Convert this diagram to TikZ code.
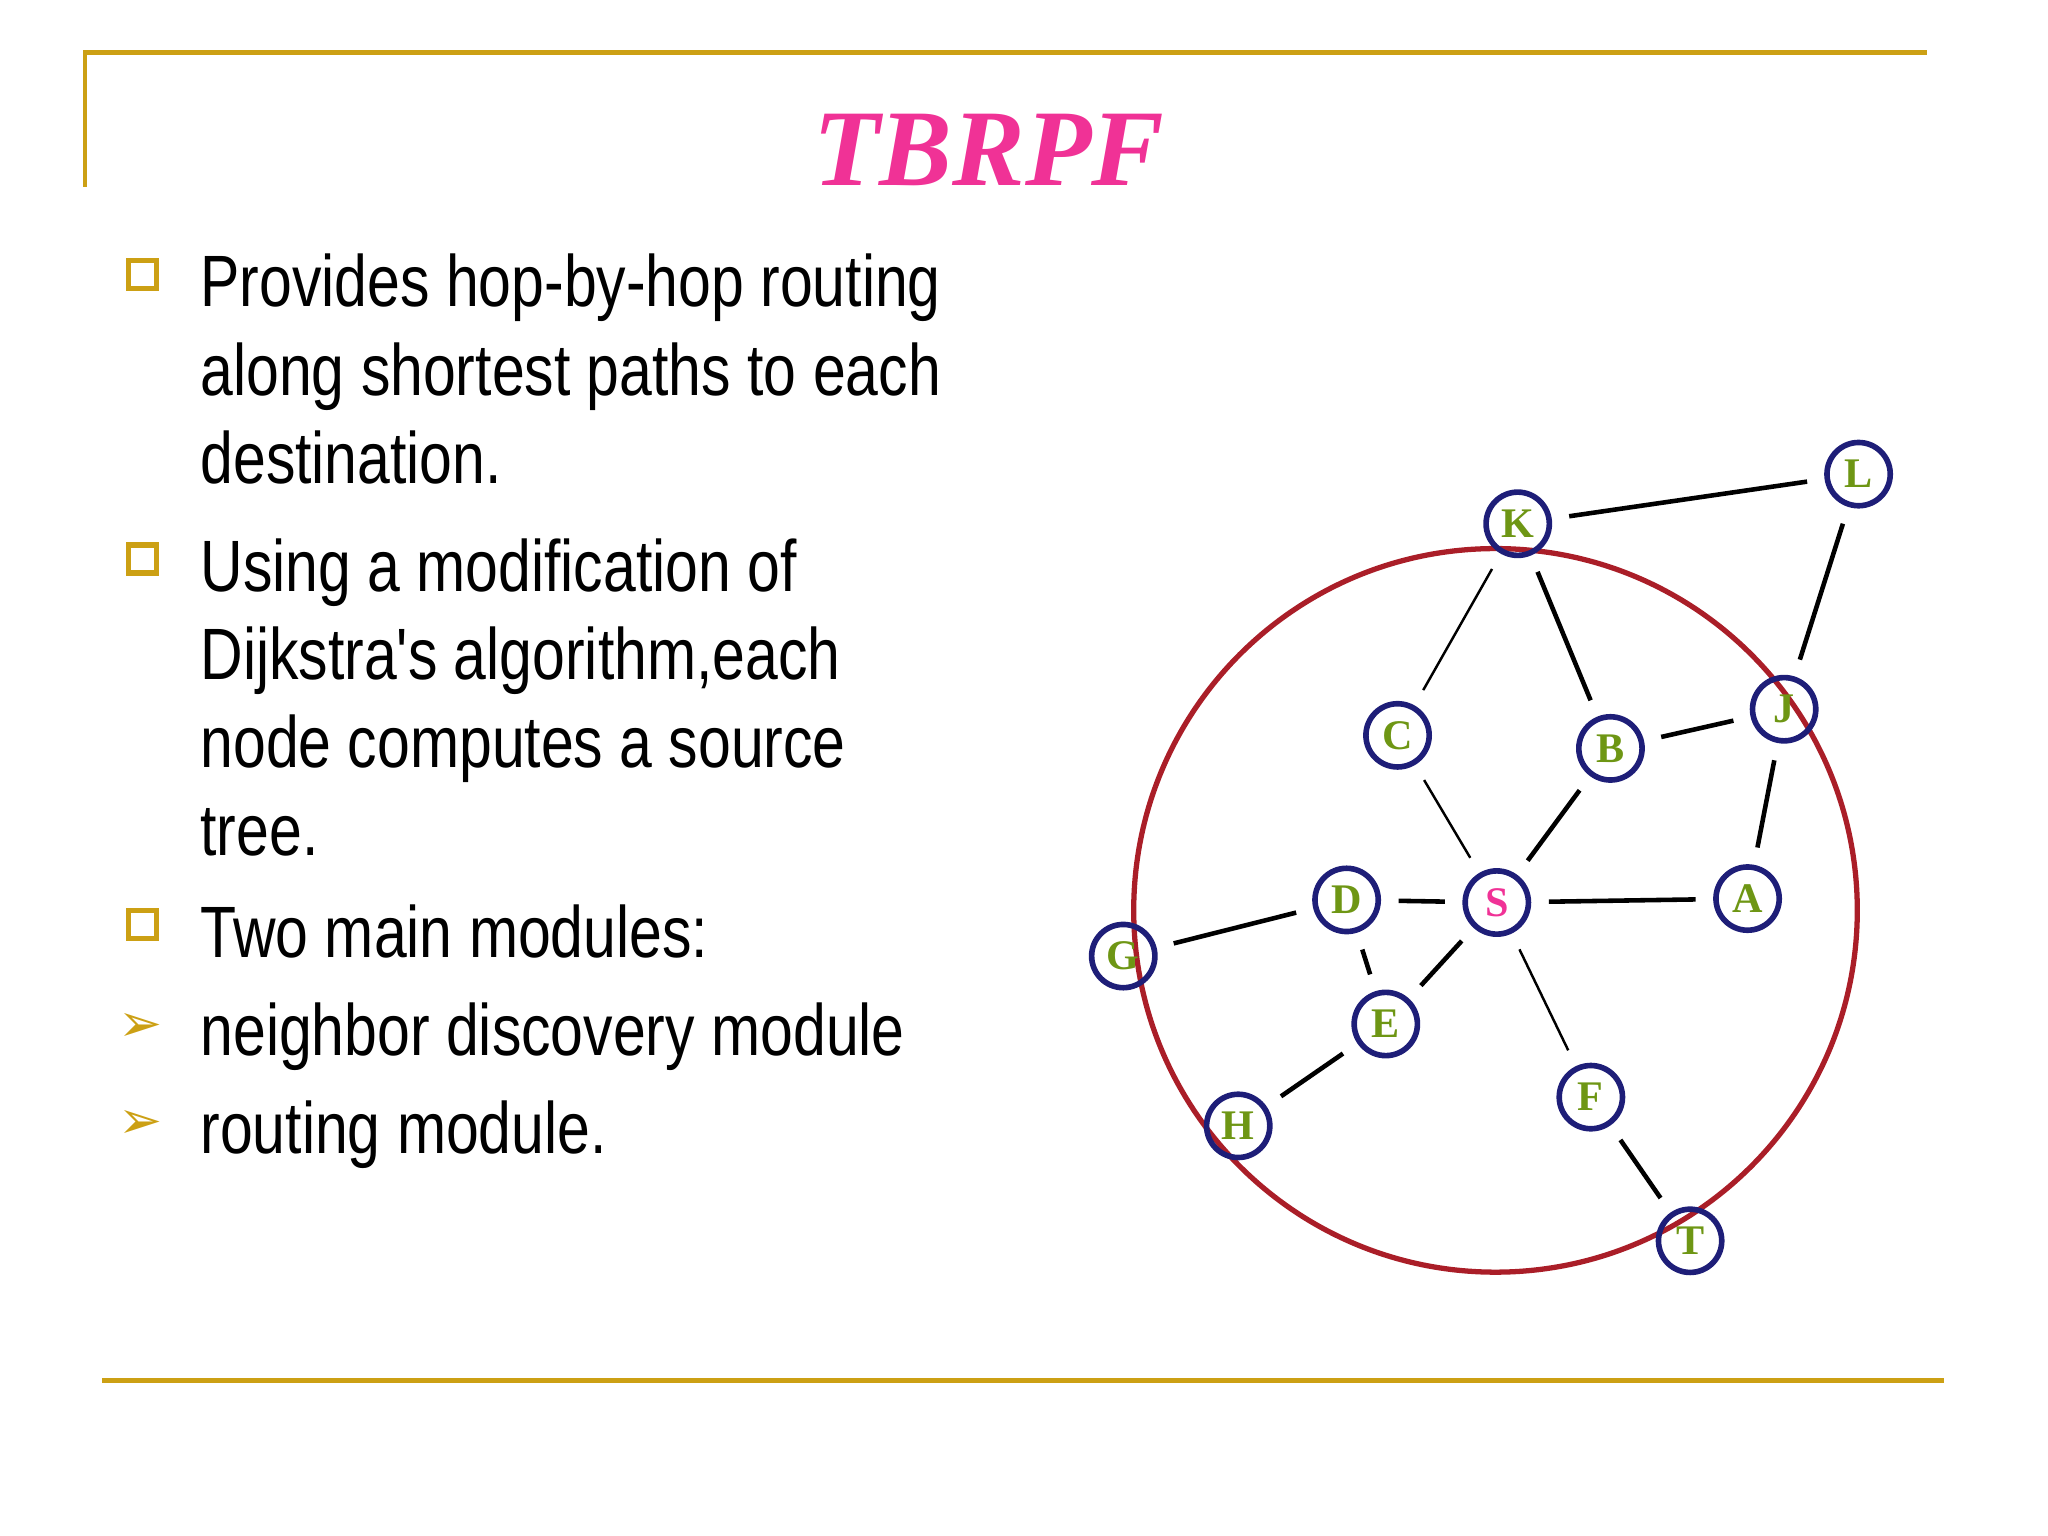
\documentclass[tikz,border=0pt]{standalone}
\usepackage{fontspec}
\setmainfont{Liberation Serif}
\newfontfamily\bodyfont[FakeStretch=0.81]{Liberation Sans}
\newfontfamily\symfont{DejaVu Sans}
\definecolor{gold}{RGB}{204,160,20}
\definecolor{pinkt}{RGB}{240,50,150}
\definecolor{navy}{RGB}{30,30,120}
\definecolor{olive}{RGB}{110,150,20}
\definecolor{dred}{RGB}{170,30,40}
\begin{document}
\begin{tikzpicture}[x=0.013061cm,y=-0.013061cm,
  gnode/.style={circle,draw=navy,line width=1.6pt,minimum size=18pt,inner sep=0pt,font=\bfseries\fontsize{12}{12}\selectfont,text=olive},
  edge/.style={line width=1.3pt,shorten >=5pt,shorten <=5pt},
  thin edge/.style={line width=0.7pt,shorten >=5pt,shorten <=5pt},
  txt/.style={anchor=base west,font=\bodyfont\fontsize{20.7}{25}\selectfont,inner sep=0pt}]
\useasboundingbox (0,0) rectangle (1568,1176);
\draw[gold,line width=1.3pt] (65,143) -- (65,40) -- (1475,40);
\draw[gold,line width=1.3pt] (78,1057) -- (1488,1057);
\node[font=\bfseries\itshape\fontsize{31}{31}\selectfont,text=pinkt] (title) at (757,115) {TBRPF};
% bullets
\foreach \y/\n in {210/b1,428/b2,708/b3}{
  \fill[gray!50] (105,\y-2) rectangle (118,\y+11);
  \node[draw=gold,line width=1.5pt,fill=white,minimum size=8pt,inner sep=0pt] (\n) at (109,\y) {};}
\node[text=gold,font=\symfont\fontsize{15}{15}\selectfont] (a1) at (108,787) {➢};
\node[text=gold,font=\symfont\fontsize{15}{15}\selectfont] (a2) at (108,861) {➢};
\node[txt] (l1) at (153,235) {Provides hop-by-hop routing};
\node[txt] (l2) at (153,303) {along shortest paths to each};
\node[txt] (l3) at (153,370) {destination.};
\node[txt] (l4) at (153,453) {Using a modification of};
\node[txt] (l5) at (153,520) {Dijkstra's algorithm,each};
\node[txt] (l6) at (153,588) {node computes a source};
\node[txt] (l7) at (153,655) {tree.};
\node[txt] (l8) at (153,733) {Two main modules:};
\node[txt] (l9) at (153,808) {neighbor discovery module};
\node[txt] (l10) at (153,883) {routing module.};
% graph
\draw[dred,line width=1.5pt] (1145,697) circle [radius=277];
\foreach \n/\x/\y in {K/1162/401,L/1423/363,C/1070/563,B/1233/573,J/1366/543,D/1031/689,A/1338/688,G/860/732,E/1061/784,H/948/862,F/1218/840,T/1294/950}
  \node[gnode] (\n) at (\x,\y) {\n};
\node[gnode,text=pinkt] (S) at (1146,691) {S};
\foreach \a/\b in {K/L,K/B,B/J,J/L,J/A,B/S,D/S,S/A,G/D,D/E,S/E,E/H,F/T}
  \draw[edge] (\a) -- (\b);
\foreach \a/\b in {K/C,C/S,S/F}
  \draw[thin edge] (\a) -- (\b);
\end{tikzpicture}
\end{document}
